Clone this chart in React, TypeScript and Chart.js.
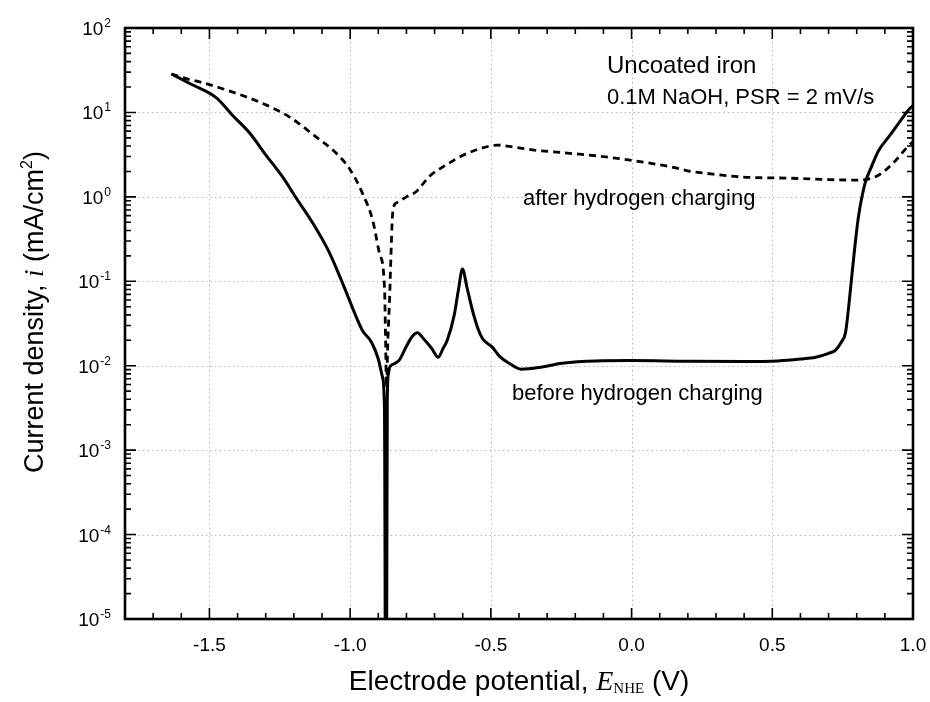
import React, { useEffect, useRef } from "react";
import { Chart, registerables } from "chart.js";

Chart.register(...registerables);

// ---- data ----
const beforeE = [-1.635, -1.57, -1.474, -1.42, -1.357, -1.30, -1.24, -1.19, -1.133, -1.073, -1.027, -0.974, -0.956, -0.924, -0.90, -0.885, -0.878, -0.874, -0.871, -0.868, -0.864, -0.86, -0.845, -0.825, -0.80, -0.78, -0.761, -0.74, -0.71, -0.687, -0.67, -0.655, -0.63, -0.615, -0.601, -0.585, -0.566, -0.545, -0.53, -0.495, -0.47, -0.435, -0.392, -0.33, -0.247, -0.126, 0.0, 0.2, 0.4, 0.52, 0.6, 0.654, 0.70, 0.725, 0.745, 0.76, 0.77, 0.78, 0.793, 0.806, 0.83, 0.853, 0.877, 0.913, 0.95, 0.99, 1.0];
const beforeI = [28.5, 22, 14.8, 9.4, 5.7, 3.15, 1.72, 0.95, 0.49, 0.216, 0.095, 0.035, 0.026, 0.019, 0.012, 0.0073, 0.003, 0.000001, 0.000001, 0.004, 0.008, 0.0095, 0.0105, 0.0117, 0.017, 0.022, 0.0245, 0.021, 0.016, 0.0126, 0.016, 0.02, 0.04, 0.08, 0.14, 0.085, 0.046, 0.027, 0.021, 0.0166, 0.013, 0.0107, 0.0091, 0.0095, 0.0107, 0.0114, 0.0115, 0.0113, 0.0112, 0.0114, 0.012, 0.0126, 0.014, 0.0153, 0.019, 0.0245, 0.045, 0.095, 0.25, 0.575, 1.46, 2.3, 3.5, 5.1, 7.5, 11.3, 12];

const afterE = [-1.635, -1.58, -1.534, -1.417, -1.297, -1.215, -1.12, -1.05, -1.0, -0.956, -0.92, -0.896, -0.878, -0.874, -0.871, -0.866, -0.86, -0.855, -0.85, -0.843, -0.835, -0.80, -0.766, -0.718, -0.658, -0.60, -0.53, -0.477, -0.42, -0.353, -0.25, -0.186, -0.1, 0.0, 0.1, 0.157, 0.21, 0.264, 0.39, 0.57, 0.70, 0.806, 0.877, 0.94, 0.98, 1.0];
const afterI = [28.5, 25, 23, 17.4, 12.2, 8.8, 5.1, 3.3, 2.1, 1.1, 0.53, 0.216, 0.085, 0.02, 0.0055, 0.02, 0.06, 0.2, 0.57, 0.8, 0.85, 1.0, 1.15, 1.75, 2.4, 3.1, 3.8, 4.1, 3.9, 3.6, 3.35, 3.2, 3.0, 2.7, 2.4, 2.2, 2.0, 1.9, 1.72, 1.66, 1.6, 1.58, 1.8, 2.73, 3.9, 4.5];

const xMajorTicks = [-1.5, -1.0, -0.5, 0.0, 0.5, 1.0];
const xTickLabels = ["-1.5", "-1.0", "-0.5", "0.0", "0.5", "1.0"];
const yExponents = [-5, -4, -3, -2, -1, 0, 1, 2];
const yTickLabels = ["-5", "-4", "-3", "-2", "-1", "0", "1", "2"];

const X_MIN = -1.8;
const X_MAX = 1.0;

const SANS = '"Liberation Sans", Arial, sans-serif';
const SERIF = '"Liberation Serif", "Times New Roman", serif';

function pieces(ctx: CanvasRenderingContext2D, parts: { t: string; f: string; dy: number }[], x0: number, y0: number) {
  let w = 0;
  for (const p of parts) { ctx.font = p.f; w += ctx.measureText(p.t).width; }
  let x = x0 - w / 2;
  for (const p of parts) {
    ctx.font = p.f;
    ctx.fillText(p.t, x, y0 + p.dy);
    x += ctx.measureText(p.t).width;
  }
}

const customPlugin = {
  id: "custom",
  beforeDatasetsDraw(chart: any) {
    const { ctx, chartArea: a, scales } = chart;
    const xs = scales.x, ys = scales.y;
    ctx.save();
    ctx.strokeStyle = "#b8b8b8";
    ctx.lineWidth = 1;
    ctx.setLineDash([1.5, 3]);
    for (const v of xMajorTicks) {
      const px = Math.round(xs.getPixelForValue(v)) + 0.5;
      if (px > a.left + 3 && px < a.right - 3) {
        ctx.beginPath(); ctx.moveTo(px, a.top); ctx.lineTo(px, a.bottom); ctx.stroke();
      }
    }
    for (const e of yExponents) {
      const py = Math.round(ys.getPixelForValue(Math.pow(10, e))) + 0.5;
      if (py > a.top + 3 && py < a.bottom - 3) {
        ctx.beginPath(); ctx.moveTo(a.left, py); ctx.lineTo(a.right, py); ctx.stroke();
      }
    }
    ctx.restore();
  },
  afterDraw(chart: any) {
    const { ctx, chartArea: a, scales } = chart;
    const xs = scales.x, ys = scales.y;
    ctx.save();
    ctx.strokeStyle = "#000";
    ctx.fillStyle = "#000";
    ctx.setLineDash([]);
    // ticks
    ctx.lineWidth = 1.6;
    const MAJ = 11, MIN = 6;
    for (let i = Math.round(X_MIN * 10); i <= Math.round(X_MAX * 10); i++) {
      const v = i / 10;
      const major = xMajorTicks.some((m) => Math.abs(m - v) < 1e-6);
      const len = major ? MAJ : MIN;
      const px = xs.getPixelForValue(v);
      ctx.beginPath();
      ctx.moveTo(px, a.bottom); ctx.lineTo(px, a.bottom - len);
      ctx.moveTo(px, a.top); ctx.lineTo(px, a.top + len);
      ctx.stroke();
    }
    for (let n = yExponents[0]; n <= yExponents[yExponents.length - 1]; n++) {
      for (let k = 1; k <= 9; k++) {
        if (k > 1 && n === yExponents[yExponents.length - 1]) break;
        const py = ys.getPixelForValue(k * Math.pow(10, n));
        const len = k === 1 ? MAJ : MIN;
        ctx.beginPath();
        ctx.moveTo(a.left, py); ctx.lineTo(a.left + len, py);
        ctx.moveTo(a.right, py); ctx.lineTo(a.right - len, py);
        ctx.stroke();
      }
    }
    // frame
    ctx.lineWidth = 2.6;
    ctx.strokeRect(a.left, a.top, a.right - a.left, a.bottom - a.top);

    // x tick labels
    ctx.font = `19px ${SANS}`;
    ctx.textAlign = "center";
    ctx.textBaseline = "alphabetic";
    xMajorTicks.forEach((v, i) => {
      ctx.fillText(xTickLabels[i], xs.getPixelForValue(v), a.bottom + 32);
    });
    // y tick labels
    ctx.textAlign = "left";
    yExponents.forEach((e, i) => {
      const py = ys.getPixelForValue(Math.pow(10, e));
      ctx.font = `12px ${SANS}`;
      const ew = ctx.measureText(yTickLabels[i]).width;
      ctx.font = `19px ${SANS}`;
      const bw = ctx.measureText("10").width;
      const right = a.left - 14;
      const x0 = right - ew - bw - 1;
      ctx.fillText("10", x0, py + 7);
      ctx.font = `12px ${SANS}`;
      ctx.fillText(yTickLabels[i], x0 + bw + 1, py - 1);
    });

    // x title
    pieces(ctx, [
      { t: "Electrode potential, ", f: `28px ${SANS}`, dy: 0 },
      { t: "E", f: `italic 28px ${SERIF}`, dy: 0 },
      { t: "NHE", f: `15px ${SERIF}`, dy: 3 },
      { t: " (V)", f: `28px ${SANS}`, dy: 0 },
    ], (a.left + a.right) / 2, 690);

    // y title
    ctx.save();
    ctx.translate(43, 312);
    ctx.rotate(-Math.PI / 2);
    pieces(ctx, [
      { t: "Current density, ", f: `27px ${SANS}`, dy: 0 },
      { t: "i", f: `italic 27px ${SERIF}`, dy: 0 },
      { t: " (mA/cm", f: `27px ${SANS}`, dy: 0 },
      { t: "2", f: `16px ${SANS}`, dy: -11 },
      { t: ")", f: `27px ${SANS}`, dy: 0 },
    ], 0, 0);
    ctx.restore();

    // annotations
    ctx.textAlign = "left";
    ctx.font = `24px ${SANS}`;
    ctx.fillText("Uncoated iron", 607, 73);
    ctx.font = `22px ${SANS}`;
    ctx.fillText("0.1M NaOH, PSR = 2 mV/s", 607, 104);
    ctx.font = `22px ${SANS}`;
    ctx.fillText("after hydrogen charging", 523, 205);
    ctx.fillText("before hydrogen charging", 512, 400);
    ctx.restore();
  },
};

export default function App() {
  const ref = useRef<HTMLCanvasElement | null>(null);
  useEffect(() => {
    document.body.style.margin = "0";
    const canvas = ref.current;
    if (!canvas) return;
    const chart = new Chart(canvas, {
      type: "line",
      data: {
        datasets: [
          {
            label: "before hydrogen charging",
            data: beforeE.map((x, i) => ({ x, y: beforeI[i] })),
            borderColor: "#000",
            borderWidth: 3,
            pointRadius: 0,
            cubicInterpolationMode: "monotone",
            fill: false,
          },
          {
            label: "after hydrogen charging",
            data: afterE.map((x, i) => ({ x, y: afterI[i] })),
            borderColor: "#000",
            borderWidth: 2.8,
            borderDash: [7, 5],
            pointRadius: 0,
            cubicInterpolationMode: "monotone",
            fill: false,
          },
        ],
      },
      options: {
        responsive: false,
        animation: false,
        devicePixelRatio: 1,
        layout: { padding: { top: 28, right: 17, left: 0, bottom: 0 } },
        plugins: { legend: { display: false }, tooltip: { enabled: false } },
        events: [],
        scales: {
          x: {
            type: "linear",
            min: X_MIN,
            max: X_MAX,
            ticks: { display: false },
            grid: { display: false, drawTicks: false },
            border: { display: false },
            afterFit: (s: any) => { s.height = 83; },
          },
          y: {
            type: "logarithmic",
            min: 1e-5,
            max: 1e2,
            ticks: { display: false },
            grid: { display: false, drawTicks: false },
            border: { display: false },
            afterFit: (s: any) => { s.width = 125; },
          },
        },
      } as any,
      plugins: [customPlugin],
    });
    return () => chart.destroy();
  }, []);
  return (
    <div style={{ width: 930, height: 702, background: "#fff" }}>
      <canvas ref={ref} width={930} height={702} style={{ display: "block" }} />
    </div>
  );
}
